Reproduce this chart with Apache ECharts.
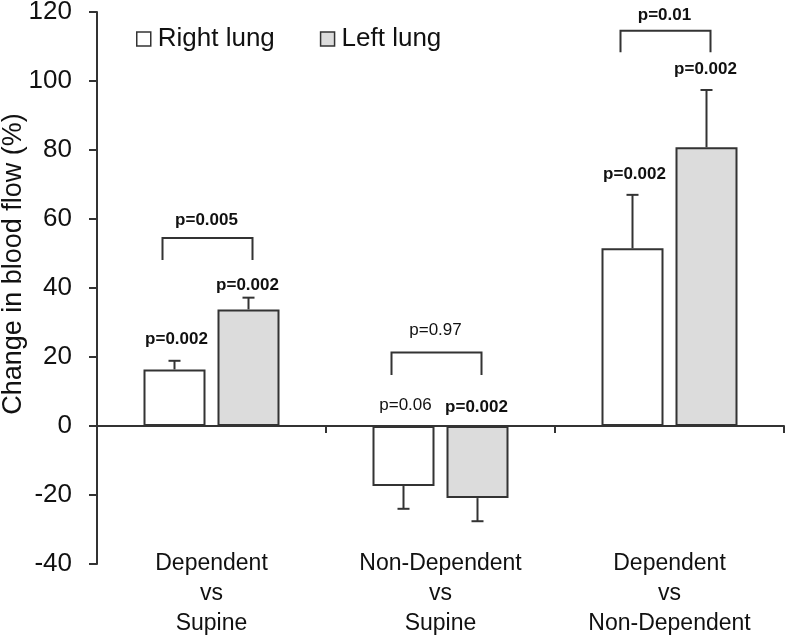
<!DOCTYPE html>
<html>
<head>
<meta charset="utf-8">
<script src="https://cdn.jsdelivr.net/npm/echarts@6/dist/echarts.min.js"></script>
<style>html,body{margin:0;padding:0;background:#fff}#c{width:787px;height:640px}</style>
</head>
<body>
<div id="c"></div>
<script>
const categories = ['Dependent\nvs\nSupine', 'Non-Dependent\nvs\nSupine', 'Dependent\nvs\nNon-Dependent'];
const rightLung = [16.4, -17.4, 51.5];
const leftLung = [33.8, -20.9, 80.8];
const rightErr = [2.5, 6.6, 15.5];
const leftErr = [3.4, 6.7, 16.6];
const rightP = ['p=0.002', 'p=0.06', 'p=0.002'];
const rightPBold = [true, false, true];
const rightPY = [25, 6.1, 73];
const leftP = ['p=0.002', 'p=0.002', 'p=0.002'];
const leftPBold = [true, true, true];
const leftPY = [40.9, 5.4, 103.5];
const bracketTop = [54.5, 21.3, 114.6];
const bracketLeg = [48.1, 14.8, 108.3];
const bracketP = ['p=0.005', 'p=0.97', 'p=0.01'];
const bracketPBold = [true, false, true];
const bracketPY = [59.7, 27.6, 118.9];
const yTicks = [-40, -20, 0, 20, 40, 60, 80, 100, 120];

const BAR_W = 62, BAR_GAP = 12;
const HALF = (BAR_W + BAR_GAP) / 2;
const FONT = '"Liberation Sans", Arial, Helvetica, sans-serif';
const INK = '#333';

function errData(vals, errs) {
  return vals.map((v, i) => [i, v, v + (v >= 0 ? errs[i] : -errs[i])]);
}
function errRender(off) {
  return function (params, api) {
    const x = api.value(0);
    const a = api.coord([x, api.value(1)]);
    const b = api.coord([x, api.value(2)]);
    const cx = a[0] + off;
    const st = { stroke: INK, lineWidth: 2 };
    return {
      type: 'group', children: [
        { type: 'line', shape: { x1: cx, y1: a[1], x2: cx, y2: b[1] }, style: st },
        { type: 'line', shape: { x1: cx - 6, y1: b[1], x2: cx + 6, y2: b[1] }, style: st }
      ]
    };
  };
}
function textData(texts, ys, bolds) {
  return texts.map((t, i) => [i, ys[i], t, bolds[i] ? 1 : 0]);
}
function textRender(off) {
  return function (params, api) {
    const i = api.value(0);
    const p = api.coord([i, api.value(1)]);
    return {
      type: 'text', x: p[0] + off, y: p[1],
      style: {
        text: api.value(2), fill: '#111', align: 'center', verticalAlign: 'middle',
        font: (api.value(3) ? 'bold ' : '') + '17px ' + FONT
      }
    };
  };
}

const option = {
  animation: false,
  backgroundColor: '#fff',
  grid: { left: 97, right: 3, top: 12, bottom: 76, containLabel: false, outerBoundsMode: 'none' },
  legend: {
    data: ['Right lung', 'Left lung'],
    left: 136, top: 26, padding: 0,
    icon: 'rect', itemWidth: 14, itemHeight: 14, itemGap: 45,
    itemStyle: { borderWidth: 1.5, borderColor: INK },
    textStyle: { fontSize: 26, color: '#111', fontFamily: FONT, padding: [0, 0, 0, 2] }
  },
  xAxis: [{
    type: 'category', data: categories,
    axisLine: { onZero: true, lineStyle: { color: INK, width: 2 } },
    axisTick: { show: true, length: 7, interval: 0, alignWithLabel: false, lineStyle: { color: INK, width: 2 } },
    axisLabel: { show: false }
  }, {
    type: 'category', data: categories, position: 'bottom', offset: -15,
    axisLine: { show: false, onZero: false }, axisTick: { show: false },
    axisLabel: { margin: 0, fontSize: 23, lineHeight: 30, color: '#111', fontFamily: FONT, interval: 0 }
  }],
  yAxis: {
    type: 'value', min: yTicks[0], max: yTicks[yTicks.length - 1], interval: 20,
    splitLine: { show: false },
    axisLine: { show: true, lineStyle: { color: INK, width: 2 } },
    axisTick: { show: true, length: 8, lineStyle: { color: INK, width: 2 } },
    axisLabel: { fontSize: 26, color: '#111', fontFamily: FONT, margin: 25 }
  },
  graphic: [{
    type: 'text', x: 14, y: 264, rotation: Math.PI / 2,
    style: { text: 'Change in blood flow (%)', font: '27px ' + FONT, fill: '#111', align: 'center', verticalAlign: 'middle' }
  }],
  series: [
    { name: 'Right lung', type: 'bar', data: rightLung, barWidth: BAR_W, barGap: (BAR_GAP / BAR_W * 100) + '%',
      itemStyle: { color: '#ffffff', borderColor: INK, borderWidth: 2 } },
    { name: 'Left lung', type: 'bar', data: leftLung, barWidth: BAR_W,
      itemStyle: { color: '#dcdcdc', borderColor: INK, borderWidth: 2 } },
    { type: 'custom', data: errData(rightLung, rightErr), renderItem: errRender(-HALF), z: 3 },
    { type: 'custom', data: errData(leftLung, leftErr), renderItem: errRender(HALF), z: 3 },
    { type: 'custom', data: bracketTop.map((v, i) => [i, v, bracketLeg[i]]), z: 3,
      renderItem: function (params, api) {
        const i = api.value(0);
        const t = api.coord([i, api.value(1)]);
        const l = api.coord([i, api.value(2)]);
        const x1 = t[0] - 49, x2 = t[0] + 41;
        return { type: 'polyline', shape: { points: [[x1, l[1]], [x1, t[1]], [x2, t[1]], [x2, l[1]]] },
          style: { stroke: INK, lineWidth: 2, fill: null } };
      } },
    { type: 'custom', data: textData(rightP, rightPY, rightPBold), renderItem: textRender(-HALF + 2), z: 4 },
    { type: 'custom', data: textData(leftP, leftPY, leftPBold), renderItem: textRender(HALF - 1), z: 4 },
    { type: 'custom', data: textData(bracketP, bracketPY, bracketPBold), renderItem: textRender(-5), z: 4 }
  ]
};
const chart = echarts.init(document.getElementById('c'), null, { renderer: 'canvas' });
chart.setOption(option);
</script>
</body>
</html>
